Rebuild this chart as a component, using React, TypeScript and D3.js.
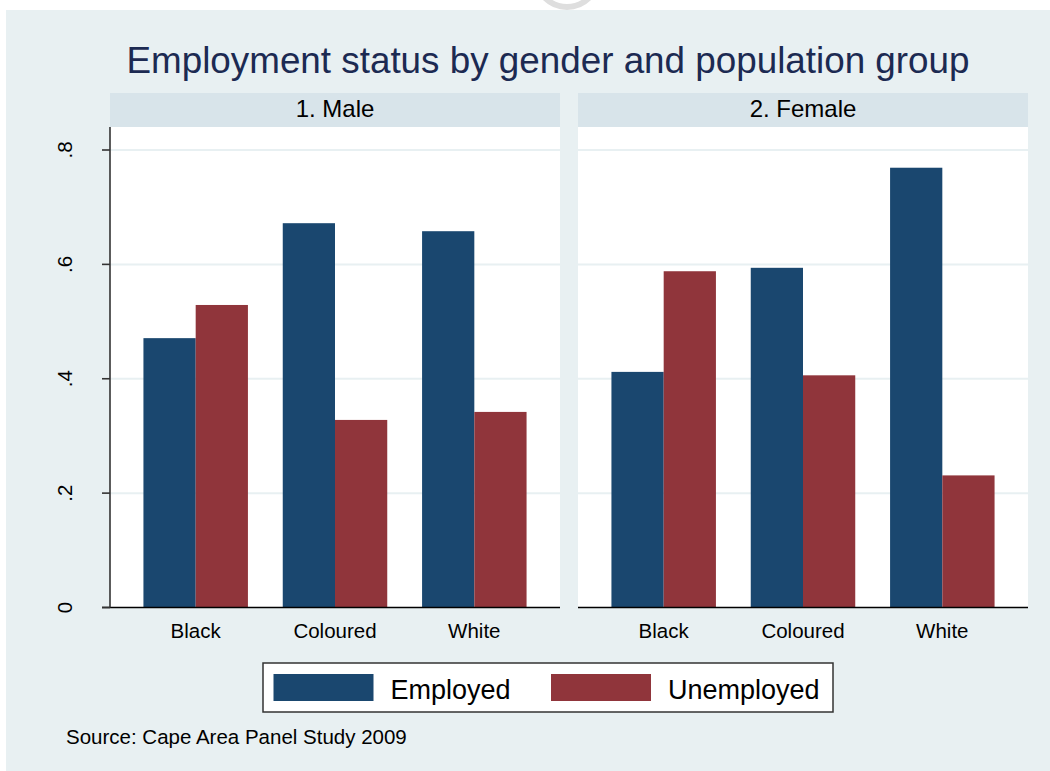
import React from "react";
import * as d3 from "d3";

const panels = ["1. Male", "2. Female"];
const groups = ["Black", "Coloured", "White"];
const series = ["Employed", "Unemployed"];
const maleEmployed = [0.471, 0.672, 0.658];
const maleUnemployed = [0.529, 0.328, 0.342];
const femaleEmployed = [0.412, 0.594, 0.769];
const femaleUnemployed = [0.588, 0.406, 0.231];
const yTicks = [0, 0.2, 0.4, 0.6, 0.8];
const yTickLabels = ["0", ".2", ".4", ".6", ".8"];

const panelValues = [
  [maleEmployed, maleUnemployed],
  [femaleEmployed, femaleUnemployed],
];

const W = 1050;
const H = 771;
const BG = "#e8f0f2";
const STRIP = "#d8e4ea";
const COLORS = ["#1a476f", "#90353b"];
const FONT = "'Liberation Sans', Arial, Helvetica, sans-serif";

export default function App() {
  const plotTop = 127;
  const plotBottom = 607.5;
  const stripTop = 93;
  const panelX = [
    [110, 560],
    [578, 1028],
  ];
  const y = d3.scaleLinear().domain([0, 0.8]).range([plotBottom, 150]);
  const color = d3.scaleOrdinal<string, string>().domain(series).range(COLORS);

  return (
    <svg
      width={W}
      height={H}
      style={{ position: "absolute", left: 0, top: 0 }}
      fontFamily={FONT}
    >
      <rect x={0} y={0} width={W} height={H} fill="#ffffff" />
      <circle cx={567} cy={-24} r={31} fill="none" stroke="#dedede" strokeWidth={6} />
      <rect x={6} y={10} width={W - 6} height={H - 10} fill={BG} />
      <text
        x={548}
        y={73}
        textAnchor="middle"
        fontSize={37}
        fill="#1c2a52"
        textLength={843}
        lengthAdjust="spacingAndGlyphs"
      >
        Employment status by gender and population group
      </text>
      {panels.map((p, pi) => {
        const [x0, x1] = panelX[pi];
        const xb = d3
          .scaleBand<string>()
          .domain(groups)
          .range([x0, x1])
          .paddingInner(0.25)
          .paddingOuter(0.24);
        const xs = d3
          .scaleBand<string>()
          .domain(series)
          .range([0, xb.bandwidth()])
          .padding(0);
        return (
          <g key={p}>
            <rect x={x0} y={stripTop} width={x1 - x0} height={plotTop - stripTop} fill={STRIP} />
            <text
              x={(x0 + x1) / 2}
              y={117}
              textAnchor="middle"
              fontSize={24}
              fill="#000"
            >
              {p}
            </text>
            <rect x={x0} y={plotTop} width={x1 - x0} height={plotBottom - plotTop} fill="#ffffff" />
            {yTicks.slice(1).map((t) => (
              <line
                key={t}
                x1={x0}
                x2={x1}
                y1={y(t)}
                y2={y(t)}
                stroke={BG}
                strokeWidth={2}
              />
            ))}
            {groups.map((g, gi) => (
              <g key={g}>
                {series.map((s, si) => {
                  const v = panelValues[pi][si][gi];
                  return (
                    <rect
                      key={s}
                      x={(xb(g) as number) + (xs(s) as number)}
                      y={y(v)}
                      width={xs.bandwidth()}
                      height={y(0) - y(v)}
                      fill={color(s)}
                    />
                  );
                })}
                <text
                  x={(xb(g) as number) + xb.bandwidth() / 2}
                  y={637.5}
                  textAnchor="middle"
                  fontSize={20.5}
                  fill="#000"
                >
                  {g}
                </text>
              </g>
            ))}
            <line x1={x0 - (pi === 0 ? 8 : 0)} x2={x1} y1={plotBottom} y2={plotBottom} stroke="#000" strokeWidth={1.6} />
            {pi === 0 && (
              <g>
                <line x1={x0} x2={x0} y1={plotTop} y2={plotBottom} stroke="#333" strokeWidth={1.6} />
                {yTicks.map((t, ti) => (
                  <g key={t}>
                    <line x1={x0 - 8} x2={x0} y1={y(t)} y2={y(t)} stroke="#333" strokeWidth={1.6} />
                    <text
                      transform={`translate(72,${y(t)}) rotate(-90)`}
                      textAnchor="middle"
                      fontSize={20.5}
                      fill="#000"
                    >
                      {yTickLabels[ti]}
                    </text>
                  </g>
                ))}
              </g>
            )}
          </g>
        );
      })}
      <rect x={263} y={663} width={570} height={49} fill="#ffffff" stroke="#333" strokeWidth={1.5} />
      {series.map((s, si) => {
        const sx = si === 0 ? 273.5 : 551;
        return (
          <g key={s}>
            <rect x={sx} y={674} width={100} height={27} fill={color(s)} />
            <text x={sx + 117} y={698.5} fontSize={27} fill="#000">
              {s}
            </text>
          </g>
        );
      })}
      <text x={66} y={744} fontSize={20.5} fill="#000">
        Source: Cape Area Panel Study 2009
      </text>
    </svg>
  );
}
